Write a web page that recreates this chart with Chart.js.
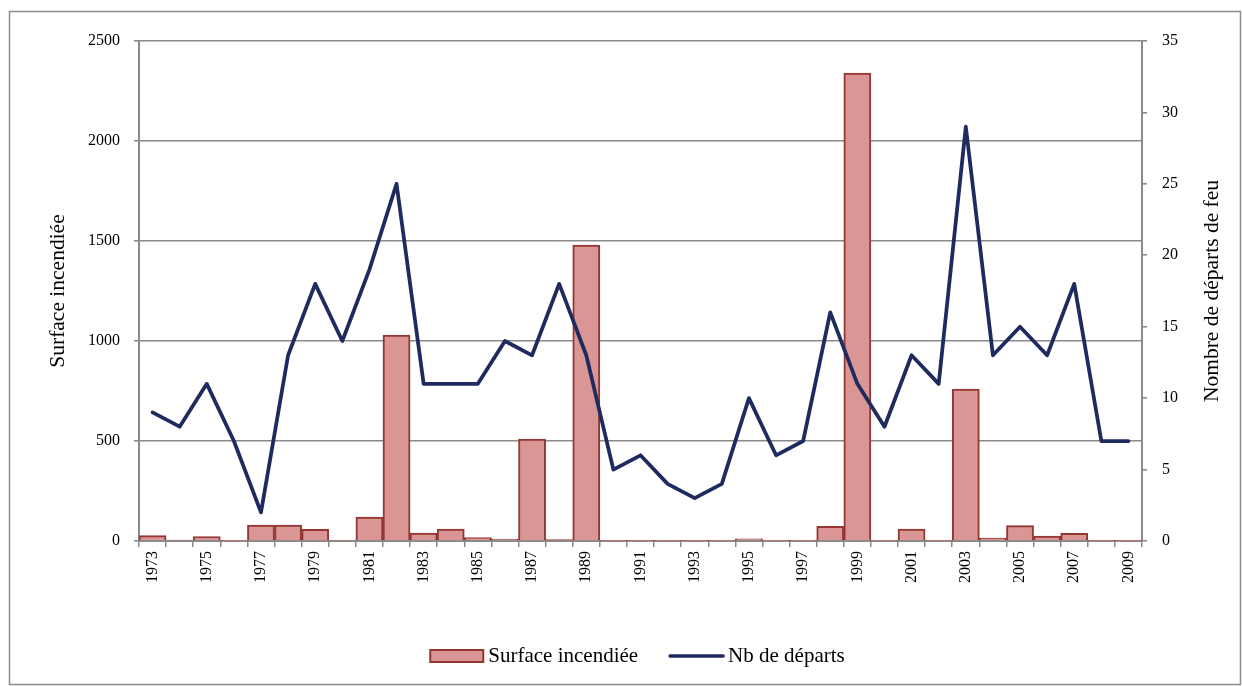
<!DOCTYPE html>
<html lang="fr">
<head>
<meta charset="utf-8">
<title>Surface incendiée et nombre de départs de feu, 1973-2009</title>
<script src="https://cdn.jsdelivr.net/npm/chart.js@4/dist/chart.umd.min.js"></script>
<style>
  html, body { margin: 0; padding: 0; background: #ffffff; }
  #wrap { position: relative; width: 1242px; height: 686px; }
  canvas { display: block; }
</style>
</head>
<body>
<div id="wrap"><canvas id="chart" width="1242" height="686"></canvas></div>
<script>
// Years on the category axis
const years = [
  '1973','1974','1975','1976','1977','1978','1979','1980','1981','1982',
  '1983','1984','1985','1986','1987','1988','1989','1990','1991','1992',
  '1993','1994','1995','1996','1997','1998','1999','2000','2001','2002',
  '2003','2004','2005','2006','2007','2008','2009'
];

// Burnt area per year (left axis)
const surfaceIncendiee = [
  27, 5, 22, 2, 80, 80, 58, 3, 120, 1030,
  40, 60, 17, 10, 510, 7, 1480, 2, 2, 2,
  2, 1, 11, 1, 1, 73, 2340, 1, 60, 1,
  760, 14, 77, 25, 38, 2, 2
];

// Number of fire starts per year (right axis)
const nbDeparts = [
  9, 8, 11, 7, 2, 13, 18, 14, 19, 25,
  11, 11, 11, 14, 13, 18, 13, 5, 6, 4,
  3, 4, 10, 6, 7, 16, 11, 8, 13, 11,
  29, 13, 15, 13, 18, 7, 7
];

// Axis ranges and tick steps
const leftAxisRange = [0, 2500, 500];
const rightAxisRange = [0, 35, 5];

const leftTitle = 'Surface incendiée';
const rightTitle = 'Nombre de départs de feu';

const SERIF = '"Liberation Serif", "Times New Roman", serif';
const AXIS_GREY = '#8a8a8a';
const BAR_FILL = '#d99694';
const BAR_EDGE = '#943634';
const LINE_NAVY = '#1f2a5e';

// Outer frame, rotated axis titles and the bottom legend
const decorations = {
  id: 'decorations',
  afterDraw(chart) {
    const ctx = chart.ctx;
    const area = chart.chartArea;
    ctx.save();

    // frame around the whole figure
    ctx.strokeStyle = '#8c8c8c';
    ctx.lineWidth = 1.5;
    ctx.strokeRect(9.5, 11.5, 1231, 673);

    // axis titles, both reading bottom to top
    const midY = (area.top + area.bottom) / 2;
    ctx.fillStyle = '#000';
    ctx.font = '21.5px ' + SERIF;
    ctx.textAlign = 'center';
    ctx.textBaseline = 'middle';
    [[chart.scales.y.left + 58, leftTitle], [chart.scales.y1.right - 30, rightTitle]].forEach(([x, txt]) => {
      ctx.save();
      ctx.translate(x, midY);
      ctx.rotate(-Math.PI / 2);
      ctx.fillText(txt, 0, 0);
      ctx.restore();
    });

    // legend
    const ds = chart.data.datasets;
    ctx.font = '21px ' + SERIF;
    ctx.textAlign = 'left';
    const swatchW = 53, gapText = 5, gapItem = 32;
    const w0 = ctx.measureText(ds[0].label).width;
    const w1 = ctx.measureText(ds[1].label).width;
    const total = swatchW + gapText + w0 + gapItem + swatchW + gapText + w1;
    let x = (area.left + area.right) / 2 - 3 - total / 2;
    const y = 656;

    ctx.fillStyle = ds[0].backgroundColor;
    ctx.fillRect(x, y - 6, swatchW, 12);
    ctx.strokeStyle = ds[0].borderColor;
    ctx.lineWidth = 2;
    ctx.strokeRect(x, y - 6, swatchW, 12);
    x += swatchW + gapText;
    ctx.fillStyle = '#000';
    ctx.fillText(ds[0].label, x, y);
    x += w0 + gapItem;

    ctx.strokeStyle = ds[1].borderColor;
    ctx.lineWidth = 3.5;
    ctx.lineCap = 'round';
    ctx.beginPath();
    ctx.moveTo(x, y);
    ctx.lineTo(x + swatchW, y);
    ctx.stroke();
    x += swatchW + gapText;
    ctx.fillStyle = '#000';
    ctx.fillText(ds[1].label, x, y);

    ctx.restore();
  }
};

new Chart(document.getElementById('chart'), {
  type: 'bar',
  data: {
    labels: years,
    datasets: [
      {
        type: 'bar',
        label: 'Surface incendiée',
        data: surfaceIncendiee,
        yAxisID: 'y',
        backgroundColor: BAR_FILL,
        borderColor: BAR_EDGE,
        borderWidth: 2,
        barPercentage: 1,
        categoryPercentage: 1,
        order: 2
      },
      {
        type: 'line',
        label: 'Nb de départs',
        data: nbDeparts,
        yAxisID: 'y1',
        borderColor: LINE_NAVY,
        backgroundColor: LINE_NAVY,
        borderWidth: 3.75,
        pointRadius: 0,
        tension: 0,
        borderJoinStyle: 'round',
        borderCapStyle: 'round',
        order: 1
      }
    ]
  },
  options: {
    responsive: false,
    animation: false,
    devicePixelRatio: 1,
    layout: { padding: { top: 41, left: 0, right: 0, bottom: 0 } },
    plugins: {
      legend: { display: false },
      tooltip: { enabled: false },
      title: { display: false }
    },
    scales: {
      x: {
        offset: true,
        grid: {
          offset: true,
          drawOnChartArea: false,
          drawTicks: true,
          tickLength: 6,
          color: AXIS_GREY,
          lineWidth: 1.5
        },
        border: { color: AXIS_GREY, width: 2 },
        ticks: {
          autoSkip: false,
          minRotation: 90,
          maxRotation: 90,
          padding: 4,
          color: '#000',
          font: { family: SERIF, size: 16 },
          callback: (v, i) => (i % 2 === 0 ? years[i] : '')
        },
        afterFit: s => { s.height = 145; }
      },
      y: {
        position: 'left',
        min: leftAxisRange[0],
        max: leftAxisRange[1],
        ticks: {
          stepSize: leftAxisRange[2],
          padding: 14,
          color: '#000',
          font: { family: SERIF, size: 16 },
          callback: v => String(v)
        },
        grid: { color: AXIS_GREY, lineWidth: 1.6, tickLength: 5 },
        border: { color: AXIS_GREY, width: 2 },
        afterFit: s => { s.width = 139; }
      },
      y1: {
        position: 'right',
        min: rightAxisRange[0],
        max: rightAxisRange[1],
        ticks: {
          stepSize: rightAxisRange[2],
          padding: 15,
          color: '#000',
          font: { family: SERIF, size: 16 },
          callback: v => String(v)
        },
        grid: { drawOnChartArea: false, color: AXIS_GREY, lineWidth: 1.6, tickLength: 5 },
        border: { color: AXIS_GREY, width: 2 },
        afterFit: s => { s.width = 100; }
      }
    }
  },
  plugins: [decorations]
});
</script>
</body>
</html>
